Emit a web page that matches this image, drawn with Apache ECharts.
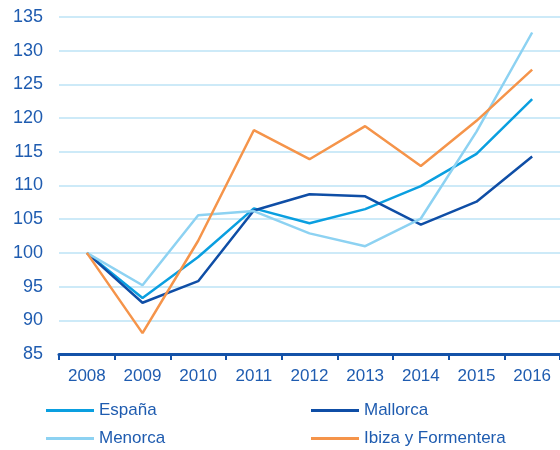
<!DOCTYPE html>
<html>
<head>
<meta charset="utf-8">
<script src="https://cdn.jsdelivr.net/npm/echarts@6/dist/echarts.min.js"></script>
<style>
  html, body { margin: 0; padding: 0; background: #fff; }
  #chart { width: 560px; height: 450px; }
</style>
</head>
<body>
<div id="chart"></div>
<script>
const years = ['2008', '2009', '2010', '2011', '2012', '2013', '2014', '2015', '2016']
const espana = [100, 93.3, 99.4, 106.6, 104.4, 106.5, 109.9, 114.7, 122.8]
const mallorca = [100, 92.6, 95.8, 106.3, 108.7, 108.4, 104.2, 107.6, 114.3]
const menorca = [100, 95.2, 105.6, 106.2, 102.9, 101.0, 105.1, 118.0, 132.7]
const ibiza = [100, 88.1, 101.8, 118.2, 113.9, 118.8, 112.9, 119.6, 127.2]

const textColor = '#1f5cb0'
const font = 'Liberation Sans, Arial, sans-serif'

let myChart = echarts.init(document.getElementById('chart'))

function legendAt(name, left, top) {
  return {
    data: [name],
    left: left,
    top: top,
    icon: 'rect',
    itemWidth: 48,
    itemHeight: 3,
    itemGap: 0,
    padding: 0,
    textStyle: { color: textColor, fontSize: 17, fontFamily: font }
  }
}

let option = {
  animation: false,
  grid: { left: 59, right: -7, top: 17, bottom: 96 },
  legend: [
    legendAt('España', 46, 402),
    legendAt('Mallorca', 311, 402),
    legendAt('Menorca', 46, 430),
    legendAt('Ibiza y Formentera', 311, 430)
  ],
  xAxis: {
    type: 'category',
    data: years,
    boundaryGap: true,
    axisLine: { lineStyle: { color: '#1452a8', width: 3 } },
    axisTick: { show: true, length: 6, lineStyle: { color: '#1452a8', width: 2 } },
    axisLabel: { color: textColor, fontSize: 17, fontFamily: font, margin: 14 }
  },
  yAxis: {
    type: 'value',
    min: 85,
    max: 135,
    interval: 5,
    axisLine: { show: false },
    axisTick: { show: false },
    splitLine: { lineStyle: { color: '#cdeaf8', width: 2 } },
    axisLabel: { color: textColor, fontSize: 18, fontFamily: font, margin: 16 }
  },
  series: [
    { name: 'España', type: 'line', data: espana, showSymbol: false, lineStyle: { color: '#0a9fe0', width: 2.5 }, itemStyle: { color: '#0a9fe0' } },
    { name: 'Mallorca', type: 'line', data: mallorca, showSymbol: false, lineStyle: { color: '#0f4ea6', width: 2.5 }, itemStyle: { color: '#0f4ea6' } },
    { name: 'Menorca', type: 'line', data: menorca, showSymbol: false, lineStyle: { color: '#8dd2f2', width: 2.5 }, itemStyle: { color: '#8dd2f2' } },
    { name: 'Ibiza y Formentera', type: 'line', data: ibiza, showSymbol: false, lineStyle: { color: '#f5944a', width: 2.5 }, itemStyle: { color: '#f5944a' } }
  ]
}
myChart.setOption(option)
</script>
</body>
</html>
